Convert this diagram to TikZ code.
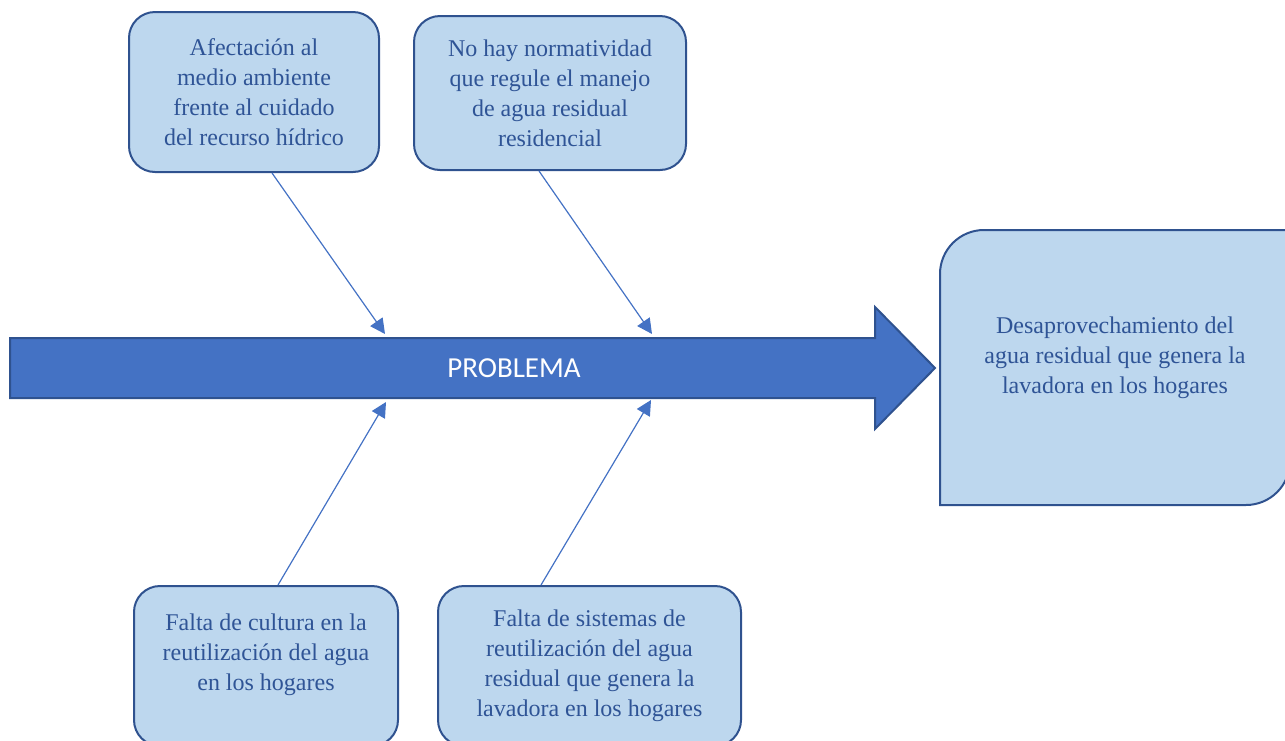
\documentclass[tikz,border=0pt]{standalone}
\usepackage{fontspec}
\setmainfont{Liberation Serif}
\newfontfamily\calibri{Carlito}
\usetikzlibrary{arrows.meta}
\usetikzlibrary{backgrounds}
\definecolor{boxfill}{HTML}{BDD7EE}
\definecolor{boxline}{HTML}{2F528F}
\definecolor{txtblue}{HTML}{2F5496}
\definecolor{spinefill}{HTML}{4472C4}
\tikzset{>={Triangle[length=7.5pt,width=7.5pt]}}

\begin{document}
\begin{tikzpicture}[x=0.5pt, y=-0.5pt]
        \tikzstyle{cause}=[rectangle, rounded corners=13pt, draw=boxline, line width=1pt, fill=boxfill, text=txtblue, align=center, font=\fontsize{12}{15}\selectfont, inner sep=0pt]
        \tikzstyle{link}=[->, draw=spinefill, line width=0.6pt]
        \useasboundingbox (0,0) rectangle (1285,740);

        % Spine
        \filldraw [fill=spinefill, draw=boxline, line width=1pt] (10,338) -- (875,338) -- (875,307) -- (935,368) -- (875,429) -- (875,398) -- (10,398) -- cycle;
        \node at (514,368) [text=white, font=\calibri\fontsize{14.5}{17}\selectfont] (prob) {PROBLEMA};
        \coordinate (up_1) at (385,334);
        \coordinate (up_2) at (652,334);
        \coordinate (low_1) at (386,402);
        \coordinate (low_2) at (651,400);

        % Causes above
        \node at (254,92) [cause, minimum width=125pt, minimum height=80pt] (afect)
        {Afectación al\\medio ambiente\\frente al cuidado\\del recurso hídrico};
        \node at (550,93) [cause, minimum width=136pt, minimum height=77pt] (norma)
        {No hay normatividad\\que regule el manejo\\de agua residual\\residencial};

        % Causes below
        \node at (266,666) [cause, minimum width=132pt, minimum height=80pt] (cultura)
        {Falta de cultura en la\\reutilización del agua\\en los hogares\rule[-13.6pt]{0pt}{13.6pt}};
        \node at (589.5,666) [cause, minimum width=151.5pt, minimum height=80pt] (sistemas)
        {Falta de sistemas de\\reutilización del agua\\residual que genera la\\lavadora en los hogares};

        % Effect
        \node at (1115,367.5) [cause, draw=none, fill=none, minimum width=174pt, minimum height=136.5pt] (desp)
        {Desaprovechamiento del\\agua residual que genera la\\lavadora en los hogares\rule[-12.1pt]{0pt}{12.1pt}};
        \begin{scope}[on background layer]
          \filldraw [fill=boxfill, draw=boxline, line width=1pt] (desp.south west) -- ([yshift=-22pt]desp.north west)
            arc [start angle=180, end angle=90, radius=22pt] -- (desp.north east) -- ([yshift=22pt]desp.south east)
            arc [start angle=0, end angle=-90, radius=22pt] -- cycle;
        \end{scope}

        % Causes -> Spine
        \draw [link] ([xshift=9pt]afect.south) -- (up_1);
        \draw [link] ([xshift=-5.5pt]norma.south) -- (up_2);
        \draw [link] ([xshift=6pt]cultura.north) -- (low_1);
        \draw [link] ([xshift=-24.25pt]sistemas.north) -- (low_2);
\end{tikzpicture}
\end{document}
